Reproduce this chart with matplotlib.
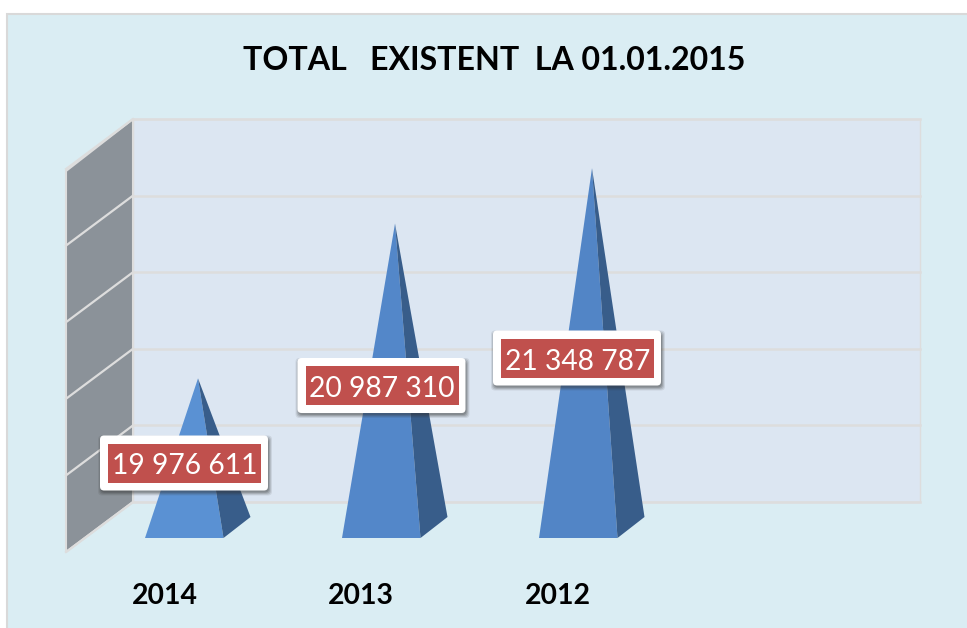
import matplotlib
matplotlib.use("Agg")
import matplotlib.pyplot as plt
from matplotlib.patches import FancyBboxPatch, Polygon, Rectangle

plt.rcParams["font.family"] = ["Lato", "DejaVu Sans"]

years = ["2014", "2013", "2012"]
values = [19976611, 20987310, 21348787]
value_labels = ["19 976 611", "20 987 310", "21 348 787"]
grid_values = [19000000, 19500000, 20000000, 20500000, 21000000, 21500000]
title = "TOTAL   EXISTENT  LA 01.01.2015"

# layout, in reference pixels
WIDTH, HEIGHT = 967, 628
PX_PER_UNIT = 76.6 / 500000
BACK_BASE_PX = 502
MID_BASE_PX = 528
pyramid_left = [145, 342, 539]
pyramid_colors = ["#5A91D3", "#5387C9", "#5285C6"]
label_centres = [(184, 463), (381.5, 385.5), (577, 358)]
year_x = [164.5, 361, 557.5]


def py(px):
    # pixel row -> value on the depth-centre plane, so apexes come from the axis
    return grid_values[0] + (MID_BASE_PX - px) / PX_PER_UNIT


def rounded(cx, cy, half_w, half_h, **kw):
    return FancyBboxPatch((cx - half_w, py(cy + half_h)), 2 * half_w, py(cy - half_h) - py(cy + half_h),
                          boxstyle="round,pad=0,rounding_size=4", mutation_aspect=1 / PX_PER_UNIT,
                          ec="none", **kw)


fig = plt.figure(figsize=(WIDTH / 100, HEIGHT / 100), dpi=100, facecolor="white")
ax = fig.add_axes([0, 0, 1, 1])
ax.set_xlim(0, WIDTH)
ax.set_ylim(py(HEIGHT), py(0))
ax.axis("off")

# panel
ax.add_patch(Rectangle((7, py(HEIGHT + 5)), WIDTH, py(14) - py(HEIGHT + 5),
                       fc="#DAEDF3", ec="#D9D9D9", lw=1.5))

# back and side walls
ax.add_patch(Rectangle((133, py(502)), 787, py(119) - py(502), fc="#DCE6F2", ec="#DDDDDD", lw=1))
ax.add_patch(Polygon([(66, py(171)), (133, py(119)), (133, py(502)), (66, py(552))],
                     fc="#8B9299", ec="#DDDDDD", lw=1.5))

for v in grid_values:
    back = BACK_BASE_PX - (v - grid_values[0]) * PX_PER_UNIT
    ax.plot([133, 920], [py(back), py(back)], color="#DDDDDD", lw=1.8, zorder=2)
    ax.plot([66, 133], [py(back + 50), py(back)], color="#DDDDDD", lw=1.6, zorder=2)

# pyramids
for left, val, col in zip(pyramid_left, values, pyramid_colors):
    apex = (left + 53, val)
    front_right = (left + 78.5, py(538))
    ax.add_patch(Polygon([apex, (left, py(538)), front_right], fc=col, ec="none", zorder=3))
    ax.add_patch(Polygon([apex, front_right, (left + 105.5, py(517))], fc="#385D8A", ec="none", zorder=3))

# value labels
for (cx, cy), text in zip(label_centres, value_labels):
    for grow, alpha in [(3, 0.10), (2, 0.14), (1, 0.18), (0, 0.22)]:
        ax.add_patch(rounded(cx + 1, cy + 2.5, 84 + grow, 27 + grow, fc="#333333", alpha=alpha, zorder=4))
    ax.add_patch(rounded(cx, cy, 84, 27.5, fc="white", zorder=5))
    ax.add_patch(Rectangle((cx - 76, py(cy + 19.5)), 153, py(cy - 19.5) - py(cy + 19.5),
                           fc="#C0504D", ec="none", zorder=6))
    ax.text(cx + 0.5, py(cy + 1), text, color="white", fontsize=20.3, ha="center", va="center_baseline", zorder=7)

# category labels and title
for x, year in zip(year_x, years):
    ax.text(x, py(594), year, fontsize=20.4, fontweight="bold", ha="center", va="center_baseline", color="black")
ax.text(494, py(58), title, fontsize=23.1, fontweight="bold", ha="center", va="center_baseline", color="black")

fig.savefig("out.png", dpi=100, facecolor="white")
